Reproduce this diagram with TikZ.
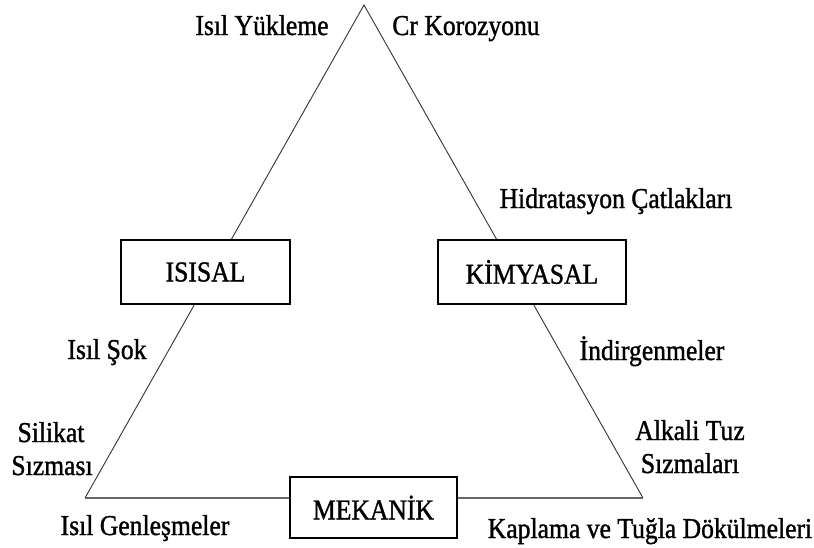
\documentclass[tikz,border=0pt]{standalone}
\usepackage{fontspec}
\setmainfont{Liberation Serif}[FakeStretch=0.89,FakeBold=1.2]
\begin{document}
\begin{tikzpicture}[x=1pt,y=-1pt,
  lbl/.style={font=\fontsize{28.8}{30}\selectfont, inner sep=0pt, anchor=base},
  box/.style={draw=black, line width=1.4pt, fill=white, inner sep=0pt,
              font=\fontsize{28.8}{30}\selectfont},
  side/.style={draw=black!80, line width=0.9pt},
  baseline/.style={draw=black!60, line width=2.4pt}]
\useasboundingbox (0,0) rectangle (814,547);
\coordinate (apex) at (364,5);
\coordinate (bl) at (85,498);
\coordinate (br) at (643,498);
\draw[side] (bl) -- (apex) -- (br);
\draw[baseline] (bl) -- (br);
\node[box, minimum width=169pt, minimum height=64pt] (isisal) at (205.5,272) {ISISAL};
\node[box, minimum width=188pt, minimum height=64pt] (kimyasal) at (532,272) {KİMYASAL};
\node[box, minimum width=167pt, minimum height=61pt] (mekanik) at (373.5,507.5) {MEKANİK};
\node[lbl] (t1) at (262,35) {Isıl Yükleme};
\node[lbl] (t2) at (466,35) {Cr Korozyonu};
\node[lbl] (t3) at (616,208) {Hidratasyon Çatlakları};
\node[lbl] (t4) at (107,359) {Isıl Şok};
\node[lbl] (t5) at (51,442) {Silikat};
\node[lbl] (t6) at (52,475) {Sızması};
\node[lbl] (t7) at (145,535) {Isıl Genleşmeler};
\node[lbl] (t8) at (652,360) {İndirgenmeler};
\node[lbl] (t9) at (690,440) {Alkali Tuz};
\node[lbl] (t10) at (690,473) {Sızmaları};
\node[lbl] (t11) at (650,538) {Kaplama ve Tuğla Dökülmeleri};
\end{tikzpicture}
\end{document}
